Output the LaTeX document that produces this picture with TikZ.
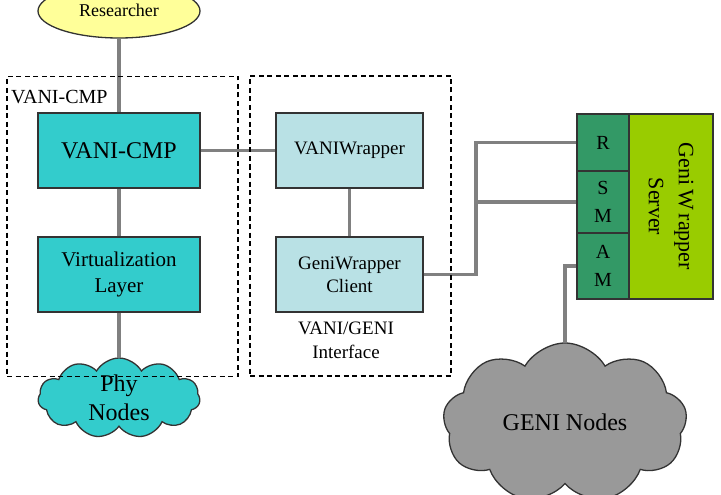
\documentclass[tikz,border=0pt]{standalone}
\usepackage{fontspec}
\setmainfont{Liberation Serif}
\usetikzlibrary{shapes.geometric,shapes.symbols}
\definecolor{turq}{HTML}{33CCCC}
\definecolor{lightteal}{HTML}{B9E1E5}
\definecolor{resy}{HTML}{FFFF99}
\definecolor{seag}{HTML}{339966}
\definecolor{limeg}{HTML}{99CC00}
\definecolor{cloudgray}{HTML}{999999}
\definecolor{wire}{HTML}{808080}
\definecolor{edgec}{HTML}{333333}
\begin{document}
\begin{tikzpicture}[x=1pt,y=-1pt,
  box/.style={draw=edgec, line width=1.3pt, inner sep=0pt, align=center},
  bigbox/.style={box, fill=turq, minimum width=162pt, minimum height=75pt},
  lightbox/.style={box, fill=lightteal, minimum width=147pt, minimum height=75pt},
  cell/.style={box, fill=seag, minimum width=52pt, font={\fontsize{20}{28}\selectfont}},
  frame/.style={draw=black, line width=1.2pt, dash pattern=on 5pt off 3.5pt, inner sep=0pt},
  wireline/.style={draw=wire, line width=3.2pt},
  cloudshape/.style={cloud, cloud puff arc=120, draw=edgec, line width=1.3pt, inner sep=0pt}
]
\useasboundingbox (0,0) rectangle (721,495);

% Researcher
\node[ellipse, draw=edgec, line width=1.3pt, fill=resy, minimum width=162pt, minimum height=54pt, inner sep=0pt, font={\fontsize{18}{20}\selectfont}] (res) at (119,11) {\raisebox{2pt}{Researcher}};

% left column
\node[bigbox, font={\fontsize{24}{28}\selectfont}] (cmp) at (119,150.5) {VANI-CMP};
\node[bigbox, font={\fontsize{21}{26}\selectfont}] (virt) at (119,274.5) {Virtualization\\Layer};
\node[cloudshape, cloud puffs=11, fill=turq, minimum width=162pt, minimum height=80pt] (phy) at (119,398) {};
\node[font={\fontsize{24}{29}\selectfont}, align=center, inner sep=0pt] (phytext) at (119,398) {Phy\\Nodes};

% middle column
\node[lightbox, font={\fontsize{19}{23}\selectfont}] (vw) at (349.5,150.5) {VANIWrapper};
\node[lightbox, font={\fontsize{19}{23}\selectfont}] (gwc) at (349.5,274.5) {GeniWrapper\\Client};
\node[font={\fontsize{19}{24}\selectfont}, align=center, inner sep=0pt] (iface) at (346,340) {VANI/GENI\\Interface};

% right side
\node[cell, minimum height=57pt] (R) at (603,142.5) {R};
\node[cell, minimum height=62pt] (SM) at (603,202) {S\\M};
\node[cell, minimum height=66pt] (AM) at (603,266) {A\\M};
\node[box, fill=limeg, minimum width=84pt, minimum height=185pt] (srv) at (671,206.5) {};
\node[rotate=-90, font={\fontsize{22}{30}\selectfont}, align=center, inner sep=0pt] (srvtext) at (671,206.5) {Geni\,W\,rapper\\Server};

\node[cloudshape, cloud puffs=9, fill=cloudgray, minimum width=244pt, minimum height=160pt] (geni) at (565,423) {};
\node[font={\fontsize{24}{28}\selectfont}, inner sep=0pt] (genitext) at (565,422) {GENI Nodes};

% connectors
\coordinate (j1) at (476,202);
\path[wireline] (res.south) -- (cmp.north);
\path[wireline] (cmp.south) -- (virt.north);
\path[wireline] (virt.south) -- (phy.north);
\path[wireline] (cmp.east) -- (vw.west);
\path[wireline] (vw.south) -- (gwc.north);
\path[wireline] (gwc.east) -| (j1);
\path[wireline] (j1) |- (R.west);
\path[wireline] (j1) -- (SM.west);
\path[wireline] (AM.west) -| (geni.north);

% dashed frames
\node[frame, minimum width=231pt, minimum height=300pt] (f1) at (122.5,226.5) {};
\node[frame, minimum width=201pt, minimum height=300pt] (f2) at (350.5,226) {};
\node[anchor=base west, font={\fontsize{20}{24}\selectfont}, inner sep=0pt] (f1label) at (11,103) {VANI-CMP};
\end{tikzpicture}
\end{document}
